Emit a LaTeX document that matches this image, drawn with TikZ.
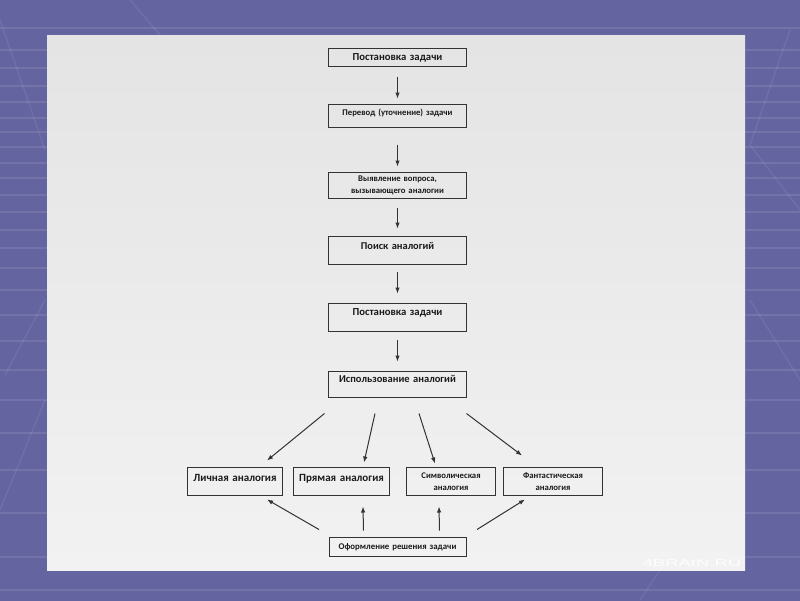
\documentclass[tikz,border=0pt]{standalone}
\usepackage{fontspec}
\setmainfont{Carlito}
\newfontfamily\brandfont{Liberation Sans}
\usepackage{xcolor}
\usetikzlibrary{arrows.meta,positioning}

\definecolor{slidetop}{HTML}{6464A0}
\definecolor{slidedark}{HTML}{4C4C78}
\definecolor{paneltop}{HTML}{E4E4E4}
\definecolor{panelbottom}{HTML}{F2F2F2}
\definecolor{boxline}{HTML}{333333}
\definecolor{textdark}{HTML}{1A1A1A}

\begin{document}
\begin{tikzpicture}[
    x=1pt, y=1pt,
    box/.style={
        draw=boxline,
        line width=1pt,
        outer sep=0pt,
        align=center,
        inner sep=3pt,
        text=textdark,
        font=\bfseries
    },
    stepbox/.style={box, text width=132pt},
    analogbox/.style={box, minimum height=28pt},
    arrow/.style={-{Latex[length=6pt,width=4.5pt]}, line width=1pt, draw=boxline}
]
\useasboundingbox (0,0) rectangle (800,-600);

% slide background
\shade[top color=slidetop, middle color=slidedark, bottom color=slidetop] (0,0) rectangle (800,-600);
\foreach \y in {28,50,68,86,102,118,132,147,163,178,195,212,230,248,268,290,315,341,370,400,433,470,513,557,590}
    \draw[white, opacity=0.1, line width=1.4pt] (0,-\y) -- (800,-\y);
\draw[white, opacity=0.08, line width=1.4pt] (0,-20) -- (45,-150);
\draw[white, opacity=0.08, line width=1.4pt] (5,-375) -- (45,-300);
\draw[white, opacity=0.08, line width=1.4pt] (0,-510) -- (45,-400);
\draw[white, opacity=0.08, line width=1.4pt] (790,-30) -- (750,-145) -- (800,-210);
\draw[white, opacity=0.08, line width=1.4pt] (750,-300) -- (800,-380);
\draw[white, opacity=0.08, line width=1.4pt] (130,0) -- (160,-35);
\draw[white, opacity=0.08, line width=1.4pt] (640,-600) -- (660,-570);

% panel
\shade[top color=paneltop, bottom color=panelbottom] (47,-35) rectangle (745,-570);

% main column
\node[stepbox, minimum height=18pt, font=\bfseries\fontsize{10.7}{12}\selectfont] (title) at (397.5,-57.5) {Постановка задачи};
\node[stepbox, below=38pt of title, text height=8.2pt, text depth=8.8pt, font=\bfseries\fontsize{8.7}{10}\selectfont] (translate) {Перевод (уточнение) задачи};
\node[stepbox, below=45pt of translate, minimum height=26pt, font=\bfseries\fontsize{8.7}{12}\selectfont] (question) {Выявление вопроса,\\вызывающего аналогии};
\node[stepbox, below=38pt of question, text height=9.5pt, text depth=12.5pt, font=\bfseries\fontsize{10.4}{12}\selectfont] (search) {Поиск аналогий};
\node[stepbox, below=39pt of search, text height=8.5pt, text depth=13.5pt, font=\bfseries\fontsize{10.7}{12}\selectfont] (restate) {Постановка задачи};
\node[stepbox, below=40pt of restate, text height=7.5pt, text depth=12.5pt, font=\bfseries\fontsize{10.5}{12}\selectfont] (use) {Использование аналогий};

% analogy row
\node[analogbox, text width=89pt, below left=70pt and 46pt of use, text height=10.8pt, text depth=11.2pt, font=\bfseries\fontsize{11}{12}\selectfont] (personal) {Личная аналогия};
\node[analogbox, text width=90pt, right=11pt of personal, text height=10.8pt, text depth=11.2pt, font=\bfseries\fontsize{11}{12}\selectfont] (direct) {Прямая аналогия};
\node[analogbox, text width=83pt, right=17pt of direct, font=\bfseries\fontsize{8.7}{12}\selectfont] (symbolic) {Символическая\\аналогия};
\node[analogbox, text width=93pt, right=8pt of symbolic, font=\bfseries\fontsize{8.7}{12}\selectfont] (fantastic) {Фантастическая\\аналогия};
\node[stepbox, text width=131pt, minimum height=19pt, below=140pt of use, font=\bfseries\fontsize{8.8}{11}\selectfont] (final) {Оформление решения задачи};

\node[text=white, opacity=0.9, font=\brandfont\fontsize{10}{10}\selectfont, xscale=1.85, transform shape] (brand) at (692,-563) {4BRAIN.RU};

\draw[arrow, shorten <=10pt, shorten >=6pt] (title) -- (translate);
\draw[arrow, shorten <=17pt, shorten >=6pt] (translate) -- (question);
\draw[arrow, shorten <=9pt, shorten >=8pt] (question) -- (search);
\draw[arrow, shorten <=7pt, shorten >=10pt] (search) -- (restate);
\draw[arrow, shorten <=8pt, shorten >=10pt] (restate) -- (use);

\draw[arrow] ([xshift=-4pt,yshift=-16pt]use.south west) -- ([xshift=32pt,yshift=7pt]personal.north);
\draw[arrow] ([xshift=-22.5pt,yshift=-16pt]use.south) -- ([xshift=22.5pt,yshift=5pt]direct.north);
\draw[arrow] ([xshift=21.5pt,yshift=-16pt]use.south) -- ([xshift=-16pt,yshift=4pt]symbolic.north);
\draw[arrow] ([yshift=-16pt]use.south east) -- ([xshift=-31pt,yshift=12pt]fantastic.north);

\draw[arrow] ([xshift=-10pt,yshift=8pt]final.north west) -- ([xshift=32pt,yshift=-4pt]personal.south);
\draw[arrow] ([xshift=-34pt,yshift=7pt]final.north) -- ([xshift=21.5pt,yshift=-11pt]direct.south);
\draw[arrow] ([xshift=42pt,yshift=7pt]final.north) -- ([xshift=-12pt,yshift=-11pt]symbolic.south);
\draw[arrow] ([xshift=11pt,yshift=8pt]final.north east) -- ([xshift=-28pt,yshift=-4pt]fantastic.south);
\end{tikzpicture}
\end{document}
